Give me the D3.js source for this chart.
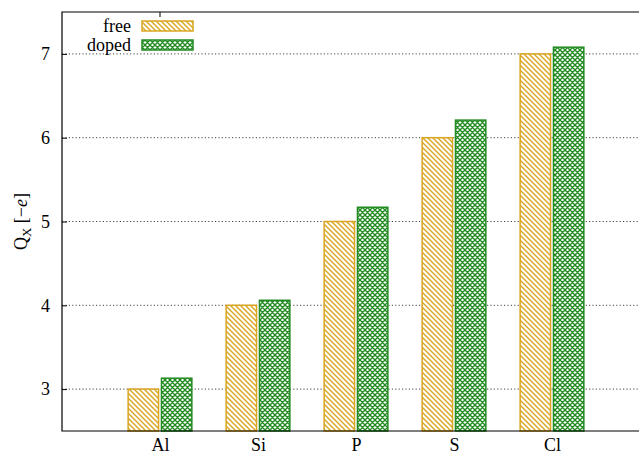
<!DOCTYPE html>
<html>
<head>
<meta charset="utf-8">
<script src="https://cdn.jsdelivr.net/npm/d3@7/dist/d3.min.js"></script>
<style>
  html, body { margin: 0; padding: 0; background: #fff; }
  svg { display: block; }
  svg text { font-family: "Liberation Serif", "DejaVu Serif", serif; }
</style>
</head>
<body>
<svg id="chart" width="639" height="455"></svg>
<script>
// Charge per element, free atom vs. doped
const elements = ["Al", "Si", "P", "S", "Cl"];
const freeValues = [3.0, 4.0, 5.0, 6.0, 7.0];
const dopedValues = [3.13, 4.06, 5.17, 6.21, 7.08];
const yTicks = [3, 4, 5, 6, 7];
const seriesNames = ["free", "doped"];

const W = 639, H = 455;
const margin = { left: 62, top: 12, bottom: 24 };
const svg = d3.select("#chart");

const freeColor = "#daa520";
const dopedColor = "#228b22";
const fontSize = 18;

// hatch fills
const defs = svg.append("defs");
const pf = defs.append("pattern").attr("id", "hatchFree")
  .attr("patternUnits", "userSpaceOnUse").attr("width", 5).attr("height", 5);
pf.append("rect").attr("width", 5).attr("height", 5).attr("fill", "#fff");
pf.append("path").attr("d", "M-1,-1 L6,6 M-1,4 L1,6 M4,-1 L6,1")
  .attr("stroke", freeColor).attr("stroke-width", 1.4);

const pd = defs.append("pattern").attr("id", "hatchDoped")
  .attr("patternUnits", "userSpaceOnUse").attr("width", 5).attr("height", 5);
pd.append("rect").attr("width", 5).attr("height", 5).attr("fill", "#fff");
pd.append("path").attr("d", "M-1,-1 L6,6 M-1,4 L1,6 M4,-1 L6,1 M6,-1 L-1,6 M1,-1 L-1,1 M6,4 L4,6")
  .attr("stroke", dopedColor).attr("stroke-width", 1.4);

// x runs in slot units: Al at 1 ... Cl at 5, continuing past the right edge
const x = d3.scaleLinear().domain([0, 6]).range([margin.left, margin.left + 588]);
const y = d3.scaleLinear().domain([2.5, 7.5]).range([H - margin.bottom, margin.top]);

const barW = 0.31, gap = 0.015;

// dotted grid
svg.append("g").selectAll("line").data(yTicks).join("line")
  .attr("x1", margin.left).attr("x2", W)
  .attr("y1", d => y(d)).attr("y2", d => y(d))
  .attr("stroke", "#444").attr("stroke-width", 1)
  .attr("stroke-dasharray", "1.2,2.2");

// bars
const series = [
  { name: seriesNames[0], values: freeValues, color: freeColor, fill: "url(#hatchFree)", off: -gap - barW },
  { name: seriesNames[1], values: dopedValues, color: dopedColor, fill: "url(#hatchDoped)", off: gap }
];
series.forEach(s => {
  svg.append("g").selectAll("rect").data(s.values).join("rect")
    .attr("x", (d, i) => x(i + 1 + s.off))
    .attr("width", x(barW) - x(0))
    .attr("y", d => y(d))
    .attr("height", d => y(2.5) - y(d))
    .attr("fill", s.fill)
    .attr("stroke", s.color).attr("stroke-width", 1.5);
});

// axes
const yAxis = d3.axisLeft(y).tickValues(yTicks).tickSize(-5).tickPadding(12).tickFormat(d3.format("d"));
const gy = svg.append("g").attr("transform", `translate(${margin.left},0)`).call(yAxis)
  .attr("font-family", null);
gy.select(".domain").remove();
gy.selectAll("line").attr("stroke", "#000");
gy.selectAll("text").attr("font-size", fontSize).attr("fill", "#000");

const xAxis = d3.axisBottom(x).tickValues(d3.range(1, elements.length + 1))
  .tickSize(0).tickPadding(7).tickFormat(d => elements[d - 1]);
const gx = svg.append("g").attr("transform", `translate(0,${y(2.5)})`).call(xAxis)
  .attr("font-family", null);
gx.select(".domain").remove();
gx.selectAll("text").attr("font-size", fontSize).attr("fill", "#000");

// border: left, bottom, top
svg.append("path")
  .attr("d", `M${W},${margin.top} H${margin.left} V${y(2.5)} H${W}`)
  .attr("fill", "none").attr("stroke", "#000").attr("stroke-width", 1.2);
// mirrored tick on top for the first category
svg.append("line").attr("x1", x(1)).attr("x2", x(1))
  .attr("y1", margin.top).attr("y2", margin.top + 5).attr("stroke", "#000");

// y label
const yl = svg.append("text")
  .attr("transform", `translate(27,${y(5)}) rotate(-90)`)
  .attr("text-anchor", "middle").attr("font-size", fontSize);
yl.append("tspan").text("Q");
yl.append("tspan").attr("font-size", 13).attr("dy", 4).text("X");
yl.append("tspan").attr("dy", -4).text(" [−");
yl.append("tspan").attr("font-style", "italic").text("e");
yl.append("tspan").text("]");

// legend
const leg = svg.append("g");
series.forEach((s, i) => {
  const cy = 26 + i * 19;
  leg.append("text").attr("x", 131).attr("y", cy).attr("dy", "0.32em")
    .attr("text-anchor", "end").attr("font-size", fontSize).text(s.name);
  leg.append("rect").attr("x", 142).attr("y", cy - 5).attr("width", 51).attr("height", 10)
    .attr("fill", s.fill).attr("stroke", s.color).attr("stroke-width", 1.5);
});
</script>
</body>
</html>
